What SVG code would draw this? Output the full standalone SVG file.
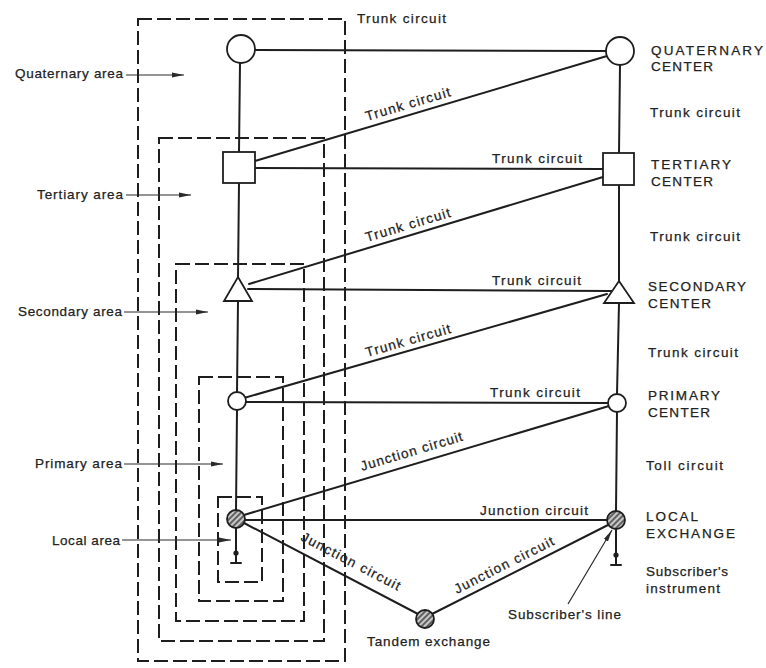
<svg xmlns="http://www.w3.org/2000/svg" width="766" height="668" viewBox="0 0 766 668">
<style>
.ln{stroke:#1e1e1e;stroke-width:2;fill:none;stroke-linecap:round}
.dash{stroke:#1e1e1e;stroke-width:2;fill:none;stroke-dasharray:14 5}
.nd{stroke:#1e1e1e;stroke-width:1.8;fill:#fff}
.hn{stroke:#1e1e1e;stroke-width:1.8;fill:url(#hatch)}
.ar{stroke:#2a2a2a;stroke-width:1.2;fill:none;marker-end:url(#ah)}
text{font-family:"Liberation Sans",Arial,sans-serif;font-size:13.5px;fill:#222;stroke:#222;stroke-width:0.25}
.cap{font-size:13.5px}
</style>
<defs>
<marker id="ah" viewBox="0 0 12 6" refX="12" refY="3" markerWidth="12" markerHeight="6" markerUnits="userSpaceOnUse" orient="auto">
<path d="M0,0.6 L12,3 L0,5.4 Z" fill="#2a2a2a"/>
</marker>
<pattern id="hatch" patternUnits="userSpaceOnUse" width="4" height="4" patternTransform="rotate(45)">
<rect width="4" height="4" fill="#c8c8c8"/>
<line x1="1" y1="0" x2="1" y2="4" stroke="#333" stroke-width="1.4"/>
</pattern>
</defs>
<rect width="766" height="668" fill="#fff"/>

<g id="areas">
<rect id="area-quaternary" class="dash" x="138" y="19" width="207" height="642"/>
<rect id="area-tertiary" class="dash" x="159" y="138" width="165" height="503"/>
<rect id="area-secondary" class="dash" x="176" y="264" width="128" height="357"/>
<rect id="area-primary" class="dash" x="199" y="377" width="84" height="224"/>
<rect id="area-local" class="dash" x="218" y="497" width="44" height="85"/>
</g>

<g id="connectors">
<line class="ln" x1="240" y1="63" x2="239" y2="152"/>
<line class="ln" x1="239" y1="183" x2="238" y2="278"/>
<line class="ln" x1="238" y1="301" x2="237" y2="392"/>
<line class="ln" x1="237" y1="410" x2="236" y2="510"/>
<line class="ln" x1="236" y1="528" x2="236" y2="563"/>
<line class="ln" x1="620" y1="65" x2="619" y2="153"/>
<line class="ln" x1="619" y1="185" x2="619" y2="282"/>
<line class="ln" x1="619" y1="303" x2="617" y2="394"/>
<line class="ln" x1="617" y1="412" x2="616" y2="511"/>
<line class="ln" x1="616" y1="529" x2="616" y2="565"/>
<line class="ln" x1="255" y1="50" x2="606" y2="51"/>
<line class="ln" x1="255" y1="168" x2="603" y2="169"/>
<line class="ln" x1="248" y1="289" x2="612" y2="291"/>
<line class="ln" x1="246" y1="402" x2="608" y2="403"/>
<line class="ln" x1="245" y1="520" x2="607" y2="520"/>
<line class="ln" x1="255" y1="161" x2="607" y2="56"/>
<line class="ln" x1="249" y1="284" x2="603" y2="177"/>
<line class="ln" x1="244" y1="398" x2="607" y2="294"/>
<line class="ln" x1="244" y1="515" x2="609" y2="406"/>
<line class="ln" x1="244" y1="523" x2="418" y2="614"/>
<line class="ln" x1="432" y1="614" x2="608" y2="525"/>
<line class="ar" x1="126" y1="75" x2="184" y2="75"/>
<line class="ar" x1="126" y1="195" x2="191" y2="195"/>
<line class="ar" x1="124" y1="312" x2="208" y2="312"/>
<line class="ar" x1="124" y1="464" x2="223" y2="464"/>
<line class="ar" x1="122" y1="540" x2="231" y2="540"/>
<line class="ar" x1="568" y1="604" x2="612" y2="530"/>
</g>

<g id="quaternary-left"><circle class="nd" cx="241" cy="49" r="14"/></g>
<g id="quaternary-right"><circle class="nd" cx="620" cy="51" r="14"/></g>
<g id="tertiary-left"><rect class="nd" x="223" y="152" width="32" height="31"/></g>
<g id="tertiary-right"><rect class="nd" x="603" y="153" width="31" height="32"/></g>
<g id="secondary-left"><polygon class="nd" points="238,277 252,301 224,301"/></g>
<g id="secondary-right"><polygon class="nd" points="619,281 634,303 604,303"/></g>
<g id="primary-left"><circle class="nd" cx="237" cy="401" r="9"/></g>
<g id="primary-right"><circle class="nd" cx="617" cy="403" r="9"/></g>
<g id="local-left">
<circle class="hn" cx="236" cy="519" r="9"/>
<circle cx="236" cy="553" r="2.6" fill="#1e1e1e"/>
<line class="ln" x1="231" y1="563" x2="241" y2="563"/>
</g>
<g id="local-right">
<circle class="hn" cx="616" cy="520" r="9"/>
<circle cx="616" cy="555" r="2.6" fill="#1e1e1e"/>
<line class="ln" x1="611" y1="565" x2="621" y2="565"/>
</g>
<g id="tandem"><circle class="hn" cx="425" cy="619" r="9"/></g>

<g id="labels">
<text x="357" y="23" textLength="89" lengthAdjust="spacing">Trunk circuit</text>
<text x="15" y="78" textLength="108" lengthAdjust="spacing">Quaternary area</text>
<text x="37" y="199" textLength="86" lengthAdjust="spacing">Tertiary area</text>
<text x="18" y="316" textLength="104" lengthAdjust="spacing">Secondary area</text>
<text x="35" y="468" textLength="87" lengthAdjust="spacing">Primary area</text>
<text x="52" y="545" textLength="68" lengthAdjust="spacing">Local area</text>

<text class="cap" x="651" y="55" textLength="112" lengthAdjust="spacing">QUATERNARY</text>
<text class="cap" x="651" y="71" textLength="62" lengthAdjust="spacing">CENTER</text>
<text x="650" y="117" textLength="90" lengthAdjust="spacing">Trunk circuit</text>
<text class="cap" x="651" y="169" textLength="80" lengthAdjust="spacing">TERTIARY</text>
<text class="cap" x="651" y="186" textLength="62" lengthAdjust="spacing">CENTER</text>
<text x="650" y="241" textLength="90" lengthAdjust="spacing">Trunk circuit</text>
<text class="cap" x="648" y="291" textLength="98" lengthAdjust="spacing">SECONDARY</text>
<text class="cap" x="648" y="308" textLength="63" lengthAdjust="spacing">CENTER</text>
<text x="648" y="357" textLength="90" lengthAdjust="spacing">Trunk circuit</text>
<text class="cap" x="648" y="400" textLength="72" lengthAdjust="spacing">PRIMARY</text>
<text class="cap" x="648" y="417" textLength="62" lengthAdjust="spacing">CENTER</text>
<text x="646" y="470" textLength="77" lengthAdjust="spacing">Toll circuit</text>
<text class="cap" x="646" y="521" textLength="52" lengthAdjust="spacing">LOCAL</text>
<text class="cap" x="646" y="538" textLength="89" lengthAdjust="spacing">EXCHANGE</text>
<text x="646" y="576" textLength="82" lengthAdjust="spacing">Subscriber's</text>
<text x="646" y="593" textLength="74" lengthAdjust="spacing">instrument</text>
<text x="508" y="619" textLength="113" lengthAdjust="spacing">Subscriber's line</text>
<text x="367" y="646" textLength="123" lengthAdjust="spacing">Tandem exchange</text>

<text x="492" y="163" textLength="90" lengthAdjust="spacing">Trunk circuit</text>
<text x="492" y="285" textLength="89" lengthAdjust="spacing">Trunk circuit</text>
<text x="490" y="397" textLength="90" lengthAdjust="spacing">Trunk circuit</text>
<text x="480" y="515" textLength="108" lengthAdjust="spacing">Junction circuit</text>

<text transform="translate(367,121) rotate(-16.6)" textLength="88" lengthAdjust="spacing">Trunk circuit</text>
<text transform="translate(367,242) rotate(-16.8)" textLength="88" lengthAdjust="spacing">Trunk circuit</text>
<text transform="translate(367,357) rotate(-16)" textLength="88" lengthAdjust="spacing">Trunk circuit</text>
<text transform="translate(362,471) rotate(-16.8)" textLength="106" lengthAdjust="spacing">Junction circuit</text>
<text transform="translate(300,540) rotate(27.5)" textLength="110" lengthAdjust="spacing">Junction circuit</text>
<text transform="translate(457,594) rotate(-26.8)" textLength="110" lengthAdjust="spacing">Junction circuit</text>
</g>
</svg>
